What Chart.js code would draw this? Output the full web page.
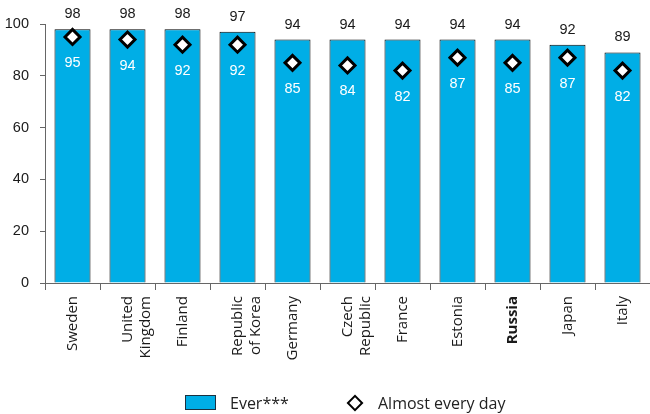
<!DOCTYPE html>
<html>
<head>
<meta charset="utf-8">
<script src="https://cdn.jsdelivr.net/npm/chart.js@4/dist/chart.umd.min.js"></script>
<style>
  html, body { margin: 0; padding: 0; background: #fff; overflow: hidden; }
  #wrap { position: relative; width: 650px; height: 414px; }
  canvas { display: block; }
  #legend { position: absolute; left: 0; top: 0; width: 650px; height: 414px; pointer-events: none;
            font-family: 'Open Sans', sans-serif; font-size: 16px; color: #222; }
  .lg-box { position: absolute; left: 185px; top: 395px; width: 29px; height: 13px;
            background: #00AEE6; border: 1px solid #1b3140; }
  .lg-text { position: absolute; top: 392px; line-height: 22px; white-space: nowrap; }
  .lg-dia { position: absolute; left: 349px; top: 397px; width: 8px; height: 8px;
            border: 2.5px solid #000; background: #fff; transform: rotate(45deg); }
</style>
</head>
<body>
<div id="wrap">
  <canvas id="c" width="650" height="414"></canvas>
  <div id="legend">
    <div class="lg-box"></div>
    <div class="lg-text" style="left:230px">Ever***</div>
    <div class="lg-dia"></div>
    <div class="lg-text" style="left:378px">Almost every day</div>
  </div>
</div>
<script>
const categories = [
  'Sweden', ['United', 'Kingdom'], 'Finland', ['Republic', 'of Korea'], 'Germany',
  ['Czech', 'Republic'], 'France', 'Estonia', 'Russia', 'Japan', 'Italy'
];
const everValues = [98, 98, 98, 97, 94, 94, 94, 94, 94, 92, 89];
const dailyValues = [95, 94, 92, 92, 85, 84, 82, 87, 85, 87, 82];
const yTicks = [0, 20, 40, 60, 80, 100];
const boldIndex = 8;

const narrow = "'Liberation Sans Narrow', 'Arial Narrow', 'Liberation Sans', sans-serif";

const valueLabels = {
  id: 'valueLabels',
  afterDatasetsDraw(chart) {
    const ctx = chart.ctx;
    ctx.save();
    ctx.font = '14.5px ' + narrow;
    ctx.textAlign = 'center';
    ctx.textBaseline = 'alphabetic';
    const barMeta = chart.getDatasetMeta(0);
    barMeta.data.forEach((el, i) => {
      ctx.fillStyle = '#1a1a1a';
      ctx.fillText(String(everValues[i]), el.x, el.y - 11);
    });
    const ptMeta = chart.getDatasetMeta(1);
    ptMeta.data.forEach((el, i) => {
      ctx.fillStyle = '#ffffff';
      ctx.fillText(String(dailyValues[i]), el.x, el.y + 30);
    });
    ctx.restore();
  }
};

new Chart(document.getElementById('c'), {
  data: {
    labels: categories,
    datasets: [
      {
        type: 'bar',
        label: 'Ever***',
        data: everValues,
        backgroundColor: '#00AEE6',
        borderColor: '#000000',
        borderWidth: 1,
        categoryPercentage: 1,
        barPercentage: 0.655,
        order: 2
      },
      {
        type: 'line',
        label: 'Almost every day',
        data: dailyValues,
        showLine: false,
        pointStyle: 'rectRot',
        pointRadius: 7.5,
        pointBorderWidth: 3,
        pointBackgroundColor: '#ffffff',
        pointBorderColor: '#000000',
        order: 1
      }
    ]
  },
  options: {
    responsive: false,
    animation: false,
    layout: { autoPadding: false, padding: { top: 24, right: 0, bottom: 0, left: 0 } },
    plugins: {
      legend: { display: false },
      tooltip: { enabled: false }
    },
    scales: {
      x: {
        offset: true,
        grid: { display: true, offset: true, drawOnChartArea: false, drawTicks: true, tickLength: 7, color: '#666' },
        border: { display: true, color: '#666', width: 1 },
        ticks: {
          autoSkip: false,
          maxRotation: 90,
          minRotation: 90,
          padding: 6,
          color: '#1a1a1a',
          font: (ctx) => ({
            family: "'Open Sans', sans-serif",
            size: 15,
            lineHeight: 1.2,
            weight: ctx.index === boldIndex ? 'bold' : 'normal'
          })
        },
        afterFit(scale) {
          scale.height = 131;
          scale.paddingLeft = 0;
          scale.paddingRight = 0;
        }
      },
      y: {
        min: 0,
        max: 100,
        afterBuildTicks(scale) { scale.ticks = yTicks.map(v => ({ value: v })); },
        grid: { display: true, drawOnChartArea: false, drawTicks: true, tickLength: 5, color: '#666' },
        border: { display: true, color: '#666', width: 1 },
        ticks: {
          padding: 11,
          color: '#1a1a1a',
          font: { family: narrow, size: 14.5 }
        },
        afterFit(scale) {
          scale.width = 45;
          scale.paddingTop = 0;
          scale.paddingBottom = 0;
        }
      }
    }
  },
  plugins: [valueLabels]
});
</script>
</body>
</html>
